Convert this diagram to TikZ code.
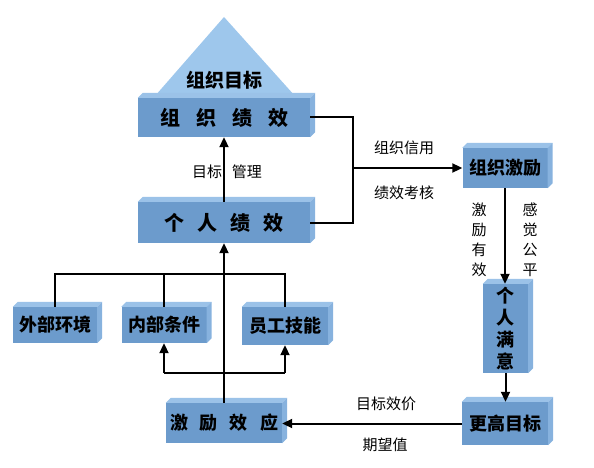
\documentclass[tikz,border=0pt]{standalone}
\usepackage{fontspec}
\setmainfont{Noto Sans CJK SC}
\usetikzlibrary{calc,arrows.meta}
\definecolor{face}{RGB}{108,155,204}
\definecolor{topc}{RGB}{155,194,232}
\definecolor{sidec}{RGB}{135,178,222}
\definecolor{tric}{RGB}{158,199,236}
\tikzset{
  box/.style={fill=face, inner sep=0pt, font=\bfseries\fontsize{18}{22}\selectfont},
  bigbox/.style={box, font=\bfseries\fontsize{20}{24}\selectfont},
  lbl/.style={font=\fontsize{15}{20}\selectfont, inner sep=0pt, align=center},
  conn/.style={line width=2pt},
  arr/.style={conn, -{Triangle[length=10pt,width=9pt]}},
}
\newcommand{\extr}[1]{%
  \fill[topc] (#1.north west) -- ++(5,-5) -- ($(#1.north east)+(5,-5)$) -- (#1.north east) -- cycle;
  \fill[sidec] (#1.north east) -- ++(5,-5) -- ($(#1.south east)+(5,-5)$) -- (#1.south east) -- cycle;}
\begin{document}
\begin{tikzpicture}[x=1pt,y=-1pt]
\useasboundingbox (0,0) rectangle (594,468);
% triangle
\fill[tric] (224,17) -- (295,96) -- (155,96) -- cycle;
\node[font=\bfseries\fontsize{19}{22}\selectfont, inner sep=0pt] (zzmb) at (224,80) {组织目标};
% boxes
\node[bigbox, minimum width=172pt, minimum height=39pt] (ozj) at (224,117.5) {组\hspace{16pt}织\hspace{16pt}绩\hspace{16pt}效};
\node[bigbox, minimum width=172pt, minimum height=41pt] (grjx) at (224,222.5) {个\hspace{13pt}人\hspace{13pt}绩\hspace{13pt}效};
\node[box, minimum width=84pt, minimum height=36pt] (wbhj) at (55,325) {外部环境};
\node[box, minimum width=85pt, minimum height=36pt] (nbtj) at (164,325) {内部条件};
\node[box, minimum width=86pt, minimum height=38pt] (ygjn) at (285,326) {员工技能};
\node[box, minimum width=116pt, minimum height=40pt] (jlxy) at (224,423) {激\hspace{12pt}励\hspace{12pt}效\hspace{12pt}应};
\node[box, minimum width=85pt, minimum height=40pt] (zzjl) at (505,168) {组织激励};
\node[box, minimum width=45pt, minimum height=89pt, align=center] (grmy) at (505.5,328.5) {个\\人\\满\\意};
\node[box, minimum width=86pt, minimum height=43pt] (ggmb) at (505,423.5) {更高目标};
\extr{ozj}\extr{grjx}\extr{wbhj}\extr{nbtj}\extr{ygjn}\extr{jlxy}\extr{zzjl}\extr{grmy}\extr{ggmb}
% labels
\node[lbl] (l1) at (227,172) {目标\hspace{10pt}管理};
\node[lbl] (l2) at (404,148) {组织信用};
\node[lbl] (l3) at (404,193) {绩效考核};
\node[lbl] (l4) at (479,240) {激\\励\\有\\效};
\node[lbl] (l5) at (530,240) {感\\觉\\公\\平};
\node[lbl] (l6) at (386,404) {目标效价};
\node[lbl] (l7) at (385,445) {期望值};
% connectors
\coordinate (rj) at (353,168);
\coordinate (busy) at (0,274);
\coordinate (lowy) at (0,373);
\draw[arr] (grjx.north) -- (ozj.south);
\draw[conn] (grjx.east) -| (rj) |- (ozj.east);
\draw[arr] (rj) -- (zzjl.west);
\draw[arr] (zzjl.south) -- (zzjl.south |- grmy.north);
\draw[arr] (grmy.south) -- (grmy.south |- ggmb.north);
\draw[arr] (ggmb.west) -- (ggmb.west -| jlxy.east);
\draw[arr] (jlxy.north) -- (jlxy.north |- grjx.south);
\draw[conn] (wbhj.north) -- (wbhj.north |- busy) -| (ygjn.north);
\draw[conn] (nbtj.north) -- (nbtj.north |- busy);
\draw[conn] (nbtj.south |- lowy) -- (ygjn.south |- lowy);
\draw[arr] (nbtj.south |- lowy) -- (nbtj.south);
\draw[arr] (ygjn.south |- lowy) -- (ygjn.south);
\end{tikzpicture}
\end{document}
